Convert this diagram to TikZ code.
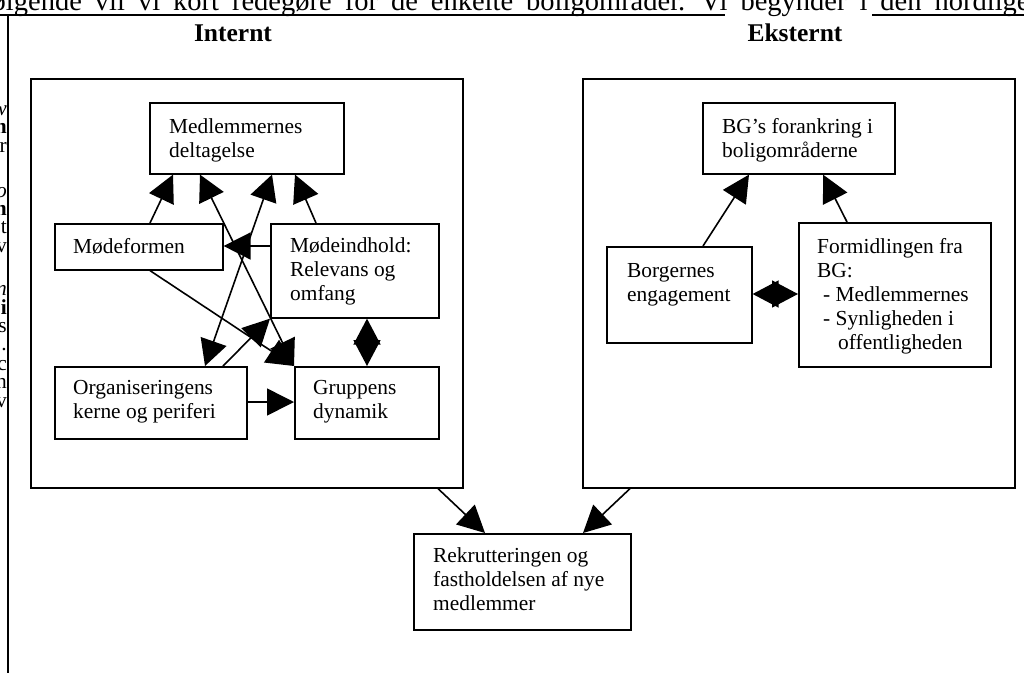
\documentclass[tikz,border=0pt]{standalone}
\usepackage{fontspec}
\setmainfont{Liberation Serif}
\usetikzlibrary{arrows.meta,calc}
\newcommand\mylines[1]{\begin{tabular}[t]{@{}l@{}}#1\end{tabular}}
\begin{document}
\begin{tikzpicture}[x=1pt,y=-1pt,
  box/.style={draw=black,line width=1.6pt,inner sep=0pt,anchor=north west},
  lbl/.style={inner sep=0pt,anchor=base west,font=\fontsize{21.4pt}{24pt}\selectfont},
  arr/.style={line width=1.6pt,-{Triangle[length=27pt,width=27pt]}},
  darr/.style={line width=1.6pt,{Triangle[length=26pt,width=27pt]}-{Triangle[length=26pt,width=27pt]}},
  ttl/.style={font=\bfseries\fontsize{25.5pt}{28pt}\selectfont,anchor=base,inner sep=0pt},
  frag/.style={font=\fontsize{21.4pt}{24pt}\selectfont,inner sep=0pt,anchor=base east},
  frame/.style={line width=2pt}
]
\useasboundingbox[fill=white] (0,0) rectangle (1024,673);

% clipped page fragments
\node[inner sep=0pt,anchor=base west,font=\fontsize{28.5pt}{30pt}\selectfont] (toptext) at (-18,10) {\spaceskip=13pt følgende vil vi kort redegøre for de enkelte boligområder. Vi begynder i den nordlige};
\coordinate (fa) at (0,15);
\coordinate (fb) at (725,15);
\coordinate (fc) at (872,15);
\coordinate (fd) at (1024,15);
\coordinate (fe) at (8,14);
\coordinate (ff) at (8,673);
\draw[frame] (fa) -- (fb);
\draw[frame] (fc) -- (fd);
\draw[frame] (fe) -- (ff);
\node[frag] (l1) at (7,115) {\itshape w};
\node[frag] (l2) at (7,133) {\bfseries n};
\node[frag] (l3) at (7,152) {r};
\node[frag] (l4) at (7,197) {\itshape o};
\node[frag] (l5) at (7,215) {\bfseries n};
\node[frag] (l6) at (7,233) {t};
\node[frag] (l7) at (7,252) {v};
\node[frag] (l8) at (7,295) {\itshape n};
\node[frag] (l9) at (7,314) {\bfseries i};
\node[frag] (l10) at (7,332) {s};
\node[frag] (l11) at (7,350) {.};
\node[frag] (l12) at (7,370) {c};
\node[frag] (l13) at (7,388) {n};
\node[frag] (l14) at (7,407) {v};

% titles
\node[ttl] (tint) at (233,41) {Internt};
\node[ttl] (text) at (795,41) {Eksternt};

% big boxes
\node[box,minimum width=432pt,minimum height=409pt] (intbox) at (30,78) {};
\node[box,minimum width=432pt,minimum height=409pt] (extbox) at (582,78) {};

% internal boxes
\node[box,minimum width=194pt,minimum height=71pt] (medl) at (149,102) {};
\node[box,minimum width=168pt,minimum height=46pt] (mform) at (54,223) {};
\node[box,minimum width=168pt,minimum height=94pt] (mind) at (270,223) {};
\node[box,minimum width=192pt,minimum height=72pt] (org) at (54,366) {};
\node[box,minimum width=144pt,minimum height=72pt] (grp) at (294,366) {};

\node[lbl] (medlT) at (169,133) {\mylines{Medlemmernes\\deltagelse}};
\node[lbl] (mformT) at (73,253) {\mylines{Mødeformen}};
\node[lbl] (mindT) at (290,252) {\mylines{Mødeindhold:\\Relevans og\\omfang}};
\node[lbl] (orgT) at (73,394) {\mylines{Organiseringens\\kerne og periferi}};
\node[lbl] (grpT) at (313,394) {\mylines{Gruppens\\dynamik}};

% external boxes
\node[box,minimum width=192pt,minimum height=71pt] (bg) at (702,102) {};
\node[box,minimum width=145pt,minimum height=96pt] (borg) at (606,246) {};
\node[box,minimum width=192pt,minimum height=144pt] (form) at (798,222) {};

\node[lbl] (bgT) at (722,133) {\mylines{BG’s forankring i\\boligområderne}};
\node[lbl] (borgT) at (627,277) {\mylines{Borgernes\\engagement}};
\node[lbl] (formT) at (817,253) {\mylines{Formidlingen fra\\BG:\\\hspace{6pt}- Medlemmernes\\\hspace{6pt}- Synligheden i\\\hspace{21pt}offentligheden}};

% bottom box
\node[box,minimum width=217pt,minimum height=96pt] (rek) at (413,533) {};
\node[lbl] (rekT) at (433,562) {\mylines{Rekrutteringen og\\fastholdelsen af nye\\medlemmer}};

% internal connectors
\draw[arr] ([xshift=96pt]mform.north west) -- ([xshift=24pt]medl.south west);
\draw[darr] ([xshift=51pt]medl.south west) -- (grp.north west);
\draw[darr] ([xshift=123pt]medl.south west) -- ([xshift=151pt]org.north west);
\draw[arr] ([xshift=46pt]mind.north west) -- ([xshift=146pt]medl.south west);
\draw[arr] ([yshift=-23pt]mind.north west) -- ([yshift=-23pt]mform.north east);
\draw[arr] ([xshift=169pt]org.north west) -- (mind.south west);
\draw[arr] ([xshift=96pt]mform.south west) -- (grp.north west);
\draw[arr] ([yshift=-36pt]org.north east) -- ([yshift=-36pt]grp.north west);
\draw[darr] ([xshift=97pt]mind.south west) -- ([xshift=73pt]grp.north west);

% external connectors
\draw[arr] ([xshift=97pt]borg.north west) -- ([xshift=47pt]bg.south west);
\draw[arr] ([xshift=49pt]form.north west) -- ([xshift=121pt]bg.south west);
\draw[darr] ([yshift=-48pt]borg.north east) -- ([yshift=-72pt]form.north west);

% to bottom box
\draw[arr] ([xshift=408pt]intbox.south west) -- ([xshift=72pt]rek.north west);
\draw[arr] ([xshift=48pt]extbox.south west) -- ([xshift=170pt]rek.north west);
\end{tikzpicture}
\end{document}
